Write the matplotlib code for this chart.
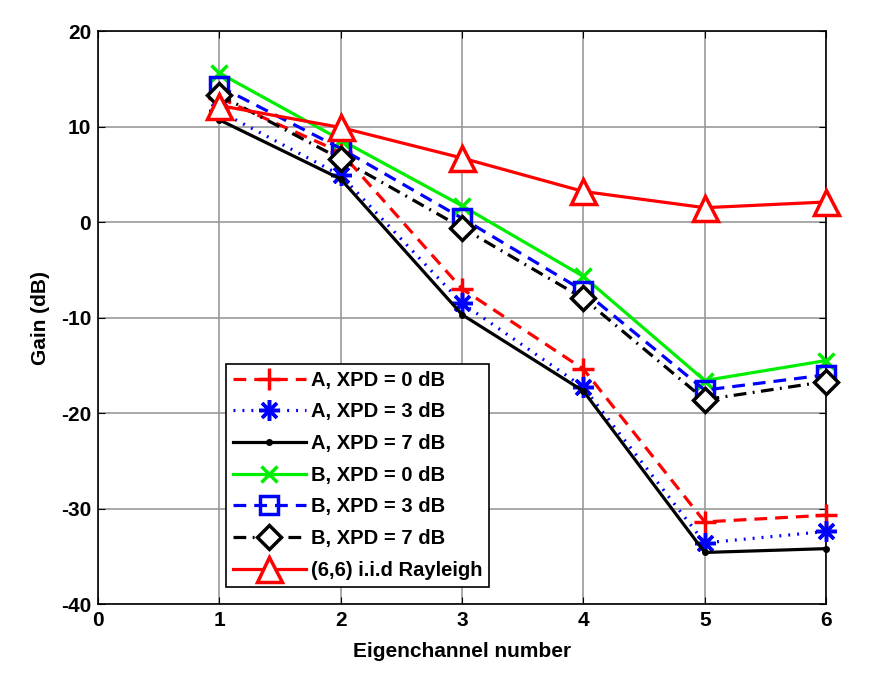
import numpy as np
import matplotlib.pyplot as plt

plt.rcParams['font.family'] = ['Liberation Sans', 'DejaVu Sans']
plt.rcParams['font.weight'] = 'bold'
plt.rcParams['axes.labelweight'] = 'bold'
plt.rcParams['axes.unicode_minus'] = False

# eigenchannel index
eig = [1, 2, 3, 4, 5, 6]

# gains in dB
a_xpd0 = [13.0, 7.3, -7.0, -15.4, -31.4, -30.7]
a_xpd3 = [11.6, 4.9, -8.5, -17.3, -33.6, -32.4]
a_xpd7 = [10.7, 4.5, -9.7, -17.7, -34.6, -34.2]
b_xpd0 = [15.6, 8.6, 1.7, -5.7, -16.6, -14.5]
b_xpd3 = [14.2, 7.7, 0.4, -7.2, -17.6, -16.0]
b_xpd7 = [13.3, 6.6, -0.6, -8.0, -18.6, -16.7]
rayleigh = [12.2, 9.9, 6.7, 3.2, 1.5, 2.1]

labels = ['A, XPD = 0 dB', 'A, XPD = 3 dB', 'A, XPD = 7 dB',
          'B, XPD = 0 dB', 'B, XPD = 3 dB', 'B, XPD = 7 dB',
          '(6,6) i.i.d Rayleigh']

fig = plt.figure(figsize=(8.73, 6.85), dpi=100)
ax = fig.add_axes([0.1123, 0.1182, 0.834, 0.8365])

lw = 2.3
kw = dict(lw=lw, clip_on=False, zorder=3)
ax.plot(eig, a_xpd0, color='red', ls=(0, (4, 2.5)), marker='+', ms=16, mew=2.5, label=labels[0], **kw)
ax.plot(eig, a_xpd3, color='blue', ls=(0, (0.6, 2.2)), marker=(8, 2, 0), ms=15, mew=2.5, label=labels[1], **kw)
ax.plot(eig, a_xpd7, color='black', ls='-', marker='o', ms=4, label=labels[2], **kw)
ax.plot(eig, b_xpd0, color='#00ee00', ls='-', marker='x', ms=11, mew=2.5, label=labels[3], **kw)
ax.plot(eig, b_xpd3, color='blue', ls=(0, (4, 2.5)), marker='s', ms=13, mew=2.5, mfc='none', label=labels[4], **kw)
ax.plot(eig, b_xpd7, color='black', ls=(0, (4, 2, 0.6, 2)), marker='D', ms=12, mew=2.5, mfc='white', label=labels[5], **kw)
ax.plot(eig, rayleigh, color='red', ls='-', marker='^', ms=18, mew=2.5, mfc='white', label=labels[6], **kw)

ax.set_xlim(0, 6)
ax.set_ylim(-40, 20)
ax.set_xticks(range(0, 7))
ax.set_yticks(range(-40, 21, 10))
ax.grid(True, color='#999999', lw=1.2)
ax.tick_params(direction='in', top=True, right=True, labelsize=15, length=5, pad=5)
for s in ax.spines.values():
    s.set_linewidth(1.2)

ax.set_xlabel('Eigenchannel number', fontsize=15, labelpad=9)
ax.set_ylabel('Gain (dB)', fontsize=15, labelpad=8)

leg = ax.legend(loc='lower left', bbox_to_anchor=(0.176, 0.03), borderaxespad=0,
                fontsize=14.5, handlelength=3.6, labelspacing=0.63, handletextpad=0.25,
                borderpad=0.35, fancybox=False, framealpha=1, edgecolor='black')
leg.get_frame().set_linewidth(1.2)
leg.set_zorder(5)

fig.savefig('out.png', dpi=100)
